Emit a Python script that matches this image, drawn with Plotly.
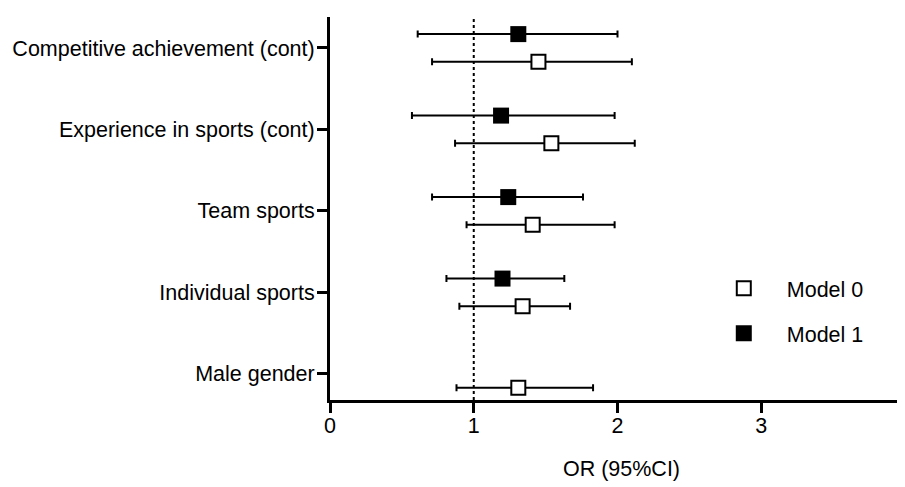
import numpy as np
import plotly.graph_objects as go

categories = ["Male gender", "Individual sports", "Team sports",
              "Experience in sports (cont)", "Competitive achievement (cont)"]
model0_or = [1.31, 1.34, 1.41, 1.54, 1.45]
model0_lo = [0.88, 0.90, 0.95, 0.87, 0.71]
model0_hi = [1.83, 1.67, 1.98, 2.12, 2.10]
model1_or = [np.nan, 1.20, 1.24, 1.19, 1.31]
model1_lo = [np.nan, 0.81, 0.71, 0.57, 0.61]
model1_hi = [np.nan, 1.63, 1.76, 1.98, 2.00]
x_ticks = [0, 1, 2, 3, 4]

OFFSET = 0.17
FONT = dict(family="Arial, Liberation Sans, sans-serif", size=21.5, color="black")

idx = np.arange(len(categories))
m0 = np.array(model0_or); m1 = np.array(model1_or)

fig = go.Figure()
fig.add_trace(go.Scatter(
    x=m0, y=idx - OFFSET, mode="markers", name="Model 0",
    marker=dict(symbol="square", size=14, color="white", line=dict(color="black", width=2)),
    error_x=dict(type="data", symmetric=False,
                 array=np.array(model0_hi) - m0, arrayminus=m0 - np.array(model0_lo),
                 color="black", thickness=2, width=3.5),
    legendgroup="m0", legendrank=1,
))
fig.add_trace(go.Scatter(
    x=m1, y=idx + OFFSET, mode="markers", name="Model 1",
    marker=dict(symbol="square", size=16, color="black", line=dict(color="black", width=0)),
    error_x=dict(type="data", symmetric=False,
                 array=np.array(model1_hi) - m1, arrayminus=m1 - np.array(model1_lo),
                 color="black", thickness=2, width=3.5),
    legendgroup="m1", legendrank=2,
))

fig.add_vline(x=1, line=dict(color="black", width=2, dash="dot"), layer="below")

fig.update_layout(
    width=905, height=487,
    margin=dict(l=322, r=0, t=9, b=95),
    plot_bgcolor="white", paper_bgcolor="white",
    font=FONT,
    showlegend=True,
    legend=dict(x=0.636, y=0.345, xanchor="left", yanchor="top",
                font=FONT, itemwidth=76, tracegroupgap=14,
                bgcolor="rgba(0,0,0,0)"),
)
fig.update_xaxes(
    range=[0, 4.0557], tickvals=x_ticks, ticktext=[str(v) for v in x_ticks],
    showline=True, linecolor="black", linewidth=3,
    ticks="outside", tickwidth=3, ticklen=10, tickcolor="black",
    ticklabelstandoff=-6,
    showgrid=False, zeroline=False, automargin=False,
    title=dict(text="OR (95%CI)", font=FONT, standoff=25),
)
fig.update_yaxes(
    range=[-0.32, 4.38], tickvals=list(idx), ticktext=categories,
    showline=True, linecolor="black", linewidth=3,
    ticks="outside", tickwidth=3, ticklen=10, tickcolor="black",
    ticklabelstandoff=-2,
    showgrid=False, zeroline=False, automargin=False,
)

fig.write_html("out.html")
